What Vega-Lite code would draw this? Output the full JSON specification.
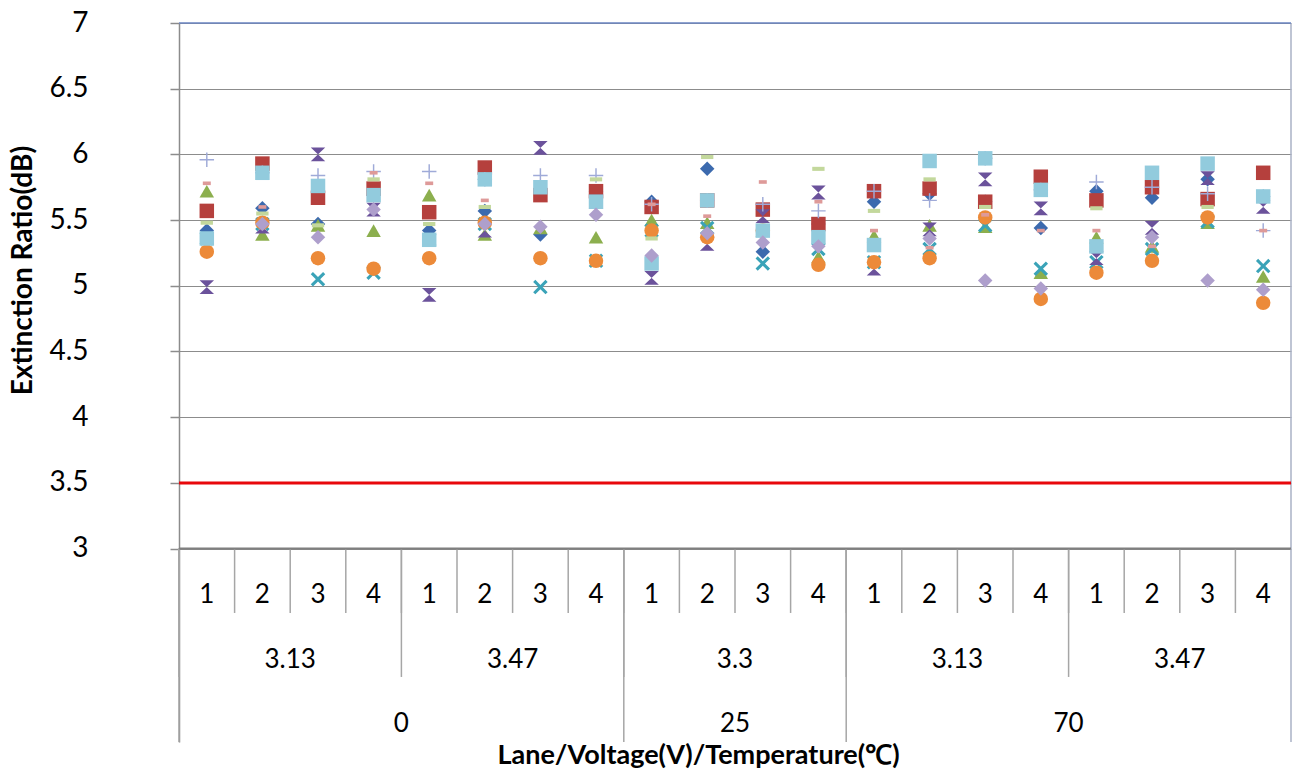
{
  "$schema": "https://vega.github.io/schema/vega-lite/v6.json",
  "width": 1112,
  "height": 719,
  "autosize": {"type": "none"},
  "padding": {"left": 179, "top": 23, "right": 1, "bottom": 29},
  "background": "white",
  "config": {"view": {"stroke": null}, "font": "Lato"},
  "datasets": {
    "cats": [
      {"idx": 1, "lane": 1, "volt": "3.13", "temp": "0", "S1": 5.42, "S2": 5.57, "S3": 5.72, "S4": 5.36, "S5": 4.99, "S6": 5.26, "S7": 5.96, "S8": 5.78, "S9": 5.48, "S10": 5.36, "S11": null},
      {"idx": 2, "lane": 2, "volt": "3.13", "temp": "0", "S1": 5.59, "S2": 5.93, "S3": 5.39, "S4": 5.47, "S5": 5.45, "S6": 5.48, "S7": 5.86, "S8": 5.60, "S9": 5.55, "S10": 5.86, "S11": 5.47},
      {"idx": 3, "lane": 3, "volt": "3.13", "temp": "0", "S1": 5.47, "S2": 5.67, "S3": 5.46, "S4": 5.05, "S5": 6.00, "S6": 5.21, "S7": 5.84, "S8": 5.76, "S9": 5.46, "S10": 5.76, "S11": 5.37},
      {"idx": 4, "lane": 4, "volt": "3.13", "temp": "0", "S1": 5.69, "S2": 5.74, "S3": 5.42, "S4": 5.10, "S5": 5.58, "S6": 5.13, "S7": 5.87, "S8": 5.86, "S9": 5.81, "S10": 5.69, "S11": 5.58},
      {"idx": 5, "lane": 1, "volt": "3.47", "temp": "0", "S1": 5.42, "S2": 5.56, "S3": 5.69, "S4": 5.35, "S5": 4.93, "S6": 5.21, "S7": 5.87, "S8": 5.78, "S9": 5.47, "S10": 5.35, "S11": null},
      {"idx": 6, "lane": 2, "volt": "3.47", "temp": "0", "S1": 5.57, "S2": 5.90, "S3": 5.39, "S4": 5.47, "S5": 5.42, "S6": 5.48, "S7": 5.81, "S8": 5.65, "S9": 5.60, "S10": 5.81, "S11": 5.47},
      {"idx": 7, "lane": 3, "volt": "3.47", "temp": "0", "S1": 5.39, "S2": 5.69, "S3": 5.44, "S4": 4.99, "S5": 6.05, "S6": 5.21, "S7": 5.84, "S8": 5.75, "S9": 5.75, "S10": 5.75, "S11": 5.45},
      {"idx": 8, "lane": 4, "volt": "3.47", "temp": "0", "S1": 5.72, "S2": 5.72, "S3": 5.37, "S4": 5.19, "S5": 5.64, "S6": 5.19, "S7": 5.84, "S8": 5.64, "S9": 5.81, "S10": 5.64, "S11": 5.54},
      {"idx": 9, "lane": 1, "volt": "3.3", "temp": "25", "S1": 5.64, "S2": 5.60, "S3": 5.50, "S4": 5.42, "S5": 5.06, "S6": 5.42, "S7": 5.62, "S8": 5.62, "S9": 5.36, "S10": 5.17, "S11": 5.23},
      {"idx": 10, "lane": 2, "volt": "3.3", "temp": "25", "S1": 5.89, "S2": 5.65, "S3": 5.48, "S4": 5.44, "S5": 5.32, "S6": 5.37, "S7": 5.65, "S8": 5.53, "S9": 5.98, "S10": 5.65, "S11": 5.40},
      {"idx": 11, "lane": 3, "volt": "3.3", "temp": "25", "S1": 5.26, "S2": 5.58, "S3": 5.42, "S4": 5.17, "S5": 5.53, "S6": 5.42, "S7": 5.62, "S8": 5.79, "S9": 5.42, "S10": 5.42, "S11": 5.33},
      {"idx": 12, "lane": 4, "volt": "3.3", "temp": "25", "S1": 5.47, "S2": 5.47, "S3": 5.22, "S4": 5.28, "S5": 5.71, "S6": 5.16, "S7": 5.57, "S8": 5.64, "S9": 5.89, "S10": 5.37, "S11": 5.30},
      {"idx": 13, "lane": 1, "volt": "3.13", "temp": "70", "S1": 5.64, "S2": 5.72, "S3": 5.38, "S4": 5.18, "S5": 5.13, "S6": 5.18, "S7": 5.72, "S8": 5.42, "S9": 5.57, "S10": 5.31, "S11": null},
      {"idx": 14, "lane": 2, "volt": "3.13", "temp": "70", "S1": 5.70, "S2": 5.74, "S3": 5.46, "S4": 5.28, "S5": 5.43, "S6": 5.21, "S7": 5.65, "S8": 5.29, "S9": 5.81, "S10": 5.95, "S11": 5.36},
      {"idx": 15, "lane": 3, "volt": "3.13", "temp": "70", "S1": 5.64, "S2": 5.64, "S3": 5.45, "S4": 5.46, "S5": 5.81, "S6": 5.52, "S7": 5.97, "S8": 5.54, "S9": 5.60, "S10": 5.97, "S11": 5.04},
      {"idx": 16, "lane": 4, "volt": "3.13", "temp": "70", "S1": 5.44, "S2": 5.83, "S3": 5.10, "S4": 5.13, "S5": 5.59, "S6": 4.90, "S7": 5.73, "S8": 5.42, "S9": 5.73, "S10": 5.73, "S11": 4.98},
      {"idx": 17, "lane": 1, "volt": "3.47", "temp": "70", "S1": 5.72, "S2": 5.65, "S3": 5.37, "S4": 5.18, "S5": 5.21, "S6": 5.10, "S7": 5.79, "S8": 5.42, "S9": 5.59, "S10": 5.30, "S11": null},
      {"idx": 18, "lane": 2, "volt": "3.47", "temp": "70", "S1": 5.67, "S2": 5.75, "S3": 5.30, "S4": 5.28, "S5": 5.44, "S6": 5.19, "S7": 5.75, "S8": 5.30, "S9": 5.86, "S10": 5.86, "S11": 5.37},
      {"idx": 19, "lane": 3, "volt": "3.47", "temp": "70", "S1": 5.81, "S2": 5.66, "S3": 5.48, "S4": 5.49, "S5": 5.82, "S6": 5.52, "S7": 5.70, "S8": 5.93, "S9": 5.60, "S10": 5.93, "S11": 5.04},
      {"idx": 20, "lane": 4, "volt": "3.47", "temp": "70", "S1": 5.68, "S2": 5.86, "S3": 5.07, "S4": 5.15, "S5": 5.60, "S6": 4.87, "S7": 5.42, "S8": 5.42, "S9": 5.68, "S10": 5.68, "S11": 4.97}
    ]
  },
  "layer": [
    {
      "data": {"name": "cats"},
      "mark": {"type": "rule", "color": "#a6a6a6", "strokeWidth": 1.5},
      "transform": [
        {"bin": {"step": 1, "extent": [0.5, 20.5], "nice": false, "anchor": 0.5}, "field": "idx", "as": ["b0", "b1"]}
      ],
      "encoding": {
        "x": {"field": "b0", "type": "quantitative"},
        "y": {"datum": 3},
        "y2": {"datum": 2.51}
      }
    },
    {
      "data": {"name": "cats"},
      "mark": {"type": "rule", "color": "#a6a6a6", "strokeWidth": 1.5},
      "transform": [
        {"filter": "datum.lane == 1"},
        {"bin": {"step": 1, "extent": [0.5, 20.5], "nice": false, "anchor": 0.5}, "field": "idx", "as": ["b0", "b1"]}
      ],
      "encoding": {
        "x": {"field": "b0", "type": "quantitative"},
        "y": {"datum": 3},
        "y2": {"datum": 2.023}
      }
    },
    {
      "data": {"name": "cats"},
      "mark": {"type": "rule", "color": "#a6a6a6", "strokeWidth": 1.5},
      "transform": [
        {"bin": {"step": 1, "extent": [0.5, 20.5], "nice": false, "anchor": 0.5}, "field": "idx", "as": ["b0", "b1"]},
        {"aggregate": [{"op": "min", "field": "b0", "as": "tb"}], "groupby": ["temp"]}
      ],
      "encoding": {
        "x": {"field": "tb", "type": "quantitative"},
        "y": {"datum": 3},
        "y2": {"datum": 1.528}
      }
    },
    {
      "data": {"values": [{}]},
      "mark": {"type": "rule", "color": "#aab2c6", "strokeWidth": 1.5},
      "encoding": {
        "x": {"datum": 20.5},
        "y": {"datum": 7},
        "y2": {"datum": 1.528}
      }
    },
    {
      "data": {"values": [{}]},
      "mark": {"type": "rule", "color": "#6a84c2", "strokeWidth": 1.5},
      "encoding": {"y": {"datum": 7}}
    },
    {
      "data": {"values": [{}]},
      "mark": {"type": "rule", "color": "#7f7f7f", "strokeWidth": 2},
      "encoding": {"y": {"datum": 3}}
    },
    {
      "data": {"values": [{}]},
      "mark": {"type": "rule", "color": "#e8070b", "strokeWidth": 3},
      "encoding": {"y": {"datum": 3.5}}
    },
    {
      "data": {"name": "cats"},
      "transform": [
        {"fold": ["S1", "S2", "S3", "S4", "S5", "S6", "S7", "S8", "S9", "S10", "S11"], "as": ["series", "er"]}
      ],
      "mark": {"type": "point", "filled": true, "opacity": 1, "size": 210},
      "encoding": {
        "x": {
          "field": "idx",
          "type": "quantitative",
          "scale": {"domain": [0.5, 20.5], "nice": false, "zero": false},
          "axis": {
            "title": "Lane/Voltage(V)/Temperature(℃)",
            "labels": false,
            "ticks": false,
            "domain": false,
            "grid": false,
            "titleFont": "Lato",
            "titleFontSize": 27,
            "titleFontWeight": "bold",
            "titleColor": "#000000",
            "titleX": 519,
            "titleY": 13,
            "titleBaseline": "middle",
            "titleAlign": "center"
          }
        },
        "y": {
          "field": "er",
          "type": "quantitative",
          "scale": {"domain": [1.528, 7], "nice": false, "zero": false},
          "axis": {
            "values": [3, 3.5, 4, 4.5, 5, 5.5, 6, 6.5, 7],
            "format": "~g",
            "grid": true,
            "gridColor": "#8c8c8c",
            "gridWidth": 1,
            "domainColor": "#8c8c8c",
            "domainWidth": 1.5,
            "tickColor": "#8c8c8c",
            "tickSize": 9,
            "tickWidth": 1.5,
            "labelPadding": 82,
            "labelFont": "Lato",
            "labelFontSize": 28,
            "labelColor": "#000000",
            "labelFlush": false,
            "labelOverlap": false,
            "title": "Extinction Ratio(dB)",
            "titleFont": "Lato",
            "titleFontSize": 28,
            "titleFontWeight": "bold",
            "titleColor": "#000000",
            "titleX": -156,
            "titleY": 247,
            "titleAngle": 270,
            "titleBaseline": "middle",
            "titleAlign": "center"
          }
        },
        "color": {
          "field": "series",
          "type": "nominal",
          "scale": {
            "domain": ["S1", "S2", "S3", "S4", "S5", "S6", "S7", "S8", "S9", "S10", "S11"],
            "range": ["#3C6AAE", "#B5403D", "#8CAF4E", "#3AA3B8", "#6B529B", "#EC8A39", "#9FAAD8", "#DE9A99", "#C3D89C", "#92CBDD", "#AE9FCC"]
          },
          "legend": null
        },
        "shape": {
          "field": "series",
          "type": "nominal",
          "scale": {
            "domain": ["S1", "S2", "S3", "S4", "S5", "S6", "S7", "S8", "S9", "S10", "S11"],
            "range": [
              "diamond",
              "square",
              "triangle-up",
              "M-0.7,-1L0,-0.3L0.7,-1L1,-0.7L0.3,0L1,0.7L0.7,1L0,0.3L-0.7,1L-1,0.7L-0.3,0L-1,-0.7Z",
              "M-1,-0.95L1,-0.95L-1,0.95L1,0.95Z",
              "circle",
              "M-1,-0.1L-0.1,-0.1L-0.1,-1L0.1,-1L0.1,-0.1L1,-0.1L1,0.1L0.1,0.1L0.1,1L-0.1,1L-0.1,0.1L-1,0.1Z",
              "M-0.55,-0.25L0.55,-0.25L0.55,0.25L-0.55,0.25Z",
              "M-0.85,-0.28L0.85,-0.28L0.85,0.28L-0.85,0.28Z",
              "square",
              "diamond"
            ]
          },
          "legend": null
        }
      }
    },
    {
      "data": {"name": "cats"},
      "mark": {"type": "text", "font": "Lato", "fontSize": 26, "color": "#000000", "baseline": "middle", "align": "center"},
      "encoding": {
        "x": {"field": "idx", "type": "quantitative"},
        "y": {"datum": 2.647},
        "text": {"field": "lane"}
      }
    },
    {
      "data": {"name": "cats"},
      "transform": [
        {"aggregate": [{"op": "mean", "field": "idx", "as": "mid"}], "groupby": ["temp", "volt"]}
      ],
      "mark": {"type": "text", "font": "Lato", "fontSize": 26, "color": "#000000", "baseline": "middle", "align": "center"},
      "encoding": {
        "x": {"field": "mid", "type": "quantitative"},
        "y": {"datum": 2.152},
        "text": {"field": "volt"}
      }
    },
    {
      "data": {"name": "cats"},
      "transform": [
        {"aggregate": [{"op": "mean", "field": "idx", "as": "mid"}], "groupby": ["temp"]}
      ],
      "mark": {"type": "text", "font": "Lato", "fontSize": 26, "color": "#000000", "baseline": "middle", "align": "center"},
      "encoding": {
        "x": {"field": "mid", "type": "quantitative"},
        "y": {"datum": 1.668},
        "text": {"field": "temp"}
      }
    }
  ]
}
